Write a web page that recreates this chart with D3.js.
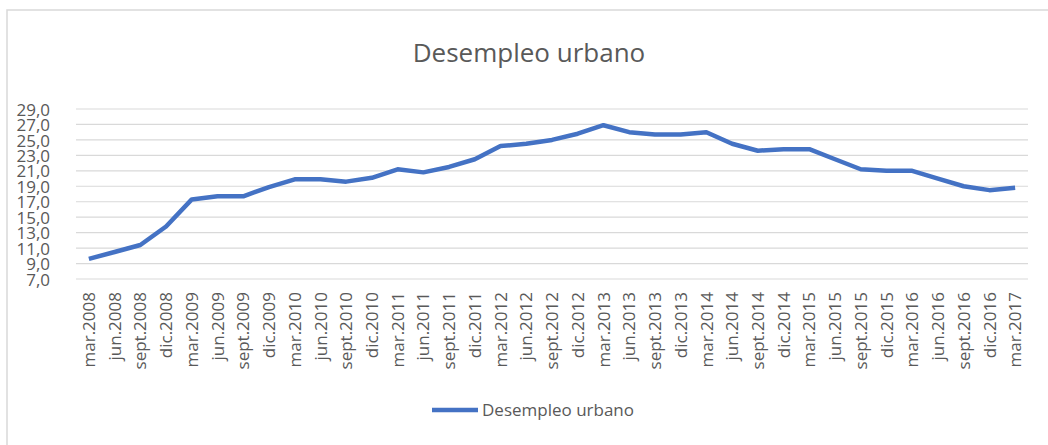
<!DOCTYPE html>
<html>
<head>
<meta charset="utf-8">
<script src="https://cdn.jsdelivr.net/npm/d3@7"></script>
<style>
  body { margin: 0; background: #fff; }
  text { font-family: "Open Sans", sans-serif; fill: #595959; }
</style>
</head>
<body>
<svg id="chart" width="1048" height="445"></svg>
<script>
// quarters (category axis)
var quarters = [
  "mar.2008", "jun.2008", "sept.2008", "dic.2008",
  "mar.2009", "jun.2009", "sept.2009", "dic.2009",
  "mar.2010", "jun.2010", "sept.2010", "dic.2010",
  "mar.2011", "jun.2011", "sept.2011", "dic.2011",
  "mar.2012", "jun.2012", "sept.2012", "dic.2012",
  "mar.2013", "jun.2013", "sept.2013", "dic.2013",
  "mar.2014", "jun.2014", "sept.2014", "dic.2014",
  "mar.2015", "jun.2015", "sept.2015", "dic.2015",
  "mar.2016", "jun.2016", "sept.2016", "dic.2016",
  "mar.2017"
];

// Desempleo urbano
var desempleo = [
  9.6, 10.5, 11.4, 13.8,
  17.3, 17.7, 17.7, 18.9,
  19.9, 19.9, 19.6, 20.1,
  21.2, 20.8, 21.5, 22.5,
  24.2, 24.5, 25.0, 25.8,
  26.9, 26.0, 25.7, 25.7,
  26.0, 24.5, 23.6, 23.8,
  23.8, 22.5, 21.2, 21.0,
  21.0, 20.0, 19.0, 18.5,
  18.8
];

var yTicks = [7, 9, 11, 13, 15, 17, 19, 21, 23, 25, 27, 29];

var svg = d3.select("#chart");

// chart area border
svg.append("rect")
  .attr("x", 7).attr("y", 10)
  .attr("width", 1100).attr("height", 500)
  .attr("fill", "none")
  .attr("stroke", "#d9d9d9")
  .attr("stroke-width", 1.5);

var plot = { left: 76, right: 1028, top: 109, bottom: 279 };

var x = d3.scaleBand()
  .domain(quarters)
  .range([plot.left, plot.right]);

var y = d3.scaleLinear()
  .domain([7, 29])
  .range([plot.bottom, plot.top]);

// title
svg.append("text")
  .attr("x", 529)
  .attr("y", 62)
  .attr("text-anchor", "middle")
  .style("font-size", "26px")
  .text("Desempleo urbano");

// gridlines
svg.append("g")
  .selectAll("line")
  .data(yTicks)
  .enter().append("line")
  .attr("x1", plot.left)
  .attr("x2", plot.right)
  .attr("y1", d => y(d))
  .attr("y2", d => y(d))
  .attr("stroke", "#d9d9d9")
  .attr("stroke-width", 1.2);

// y axis labels
var yAxis = svg.append("g")
  .attr("transform", "translate(" + (plot.left - 23) + ",0)")
  .call(d3.axisLeft(y).tickValues(yTicks).tickSize(0)
    .tickFormat(d => d3.format(".1f")(d).replace(".", ",")));
yAxis.select(".domain").remove();
yAxis.selectAll("text")
  .attr("fill", "#595959")
  .attr("dy", "0.36em")
  .style("font-size", "17px")
  .style("font-family", "'Open Sans', sans-serif");

// x axis labels (rotated)
var xAxis = svg.append("g")
  .attr("transform", "translate(0," + plot.bottom + ")")
  .call(d3.axisBottom(x).tickSize(0));
xAxis.select(".domain").remove();
xAxis.selectAll("text")
  .attr("fill", "#595959")
  .style("font-size", "17px")
  .style("font-family", "'Open Sans', sans-serif")
  .attr("text-anchor", "end")
  .attr("transform", "rotate(-90)")
  .attr("x", -13)
  .attr("y", 0)
  .attr("dy", "0.36em");

// line
var line = d3.line()
  .x((d, i) => x(quarters[i]) + x.bandwidth() / 2)
  .y(d => y(d));

svg.append("path")
  .datum(desempleo)
  .attr("d", line)
  .attr("fill", "none")
  .attr("stroke", "#4472c4")
  .attr("stroke-width", 4.5)
  .attr("stroke-linejoin", "round");

// legend
var legend = svg.append("g");
legend.append("line")
  .attr("x1", 432).attr("x2", 478)
  .attr("y1", 410).attr("y2", 410)
  .attr("stroke", "#4472c4")
  .attr("stroke-width", 4.5);
legend.append("text")
  .attr("x", 482)
  .attr("y", 416)
  .style("font-size", "17px")
  .text("Desempleo urbano");
</script>
</body>
</html>
